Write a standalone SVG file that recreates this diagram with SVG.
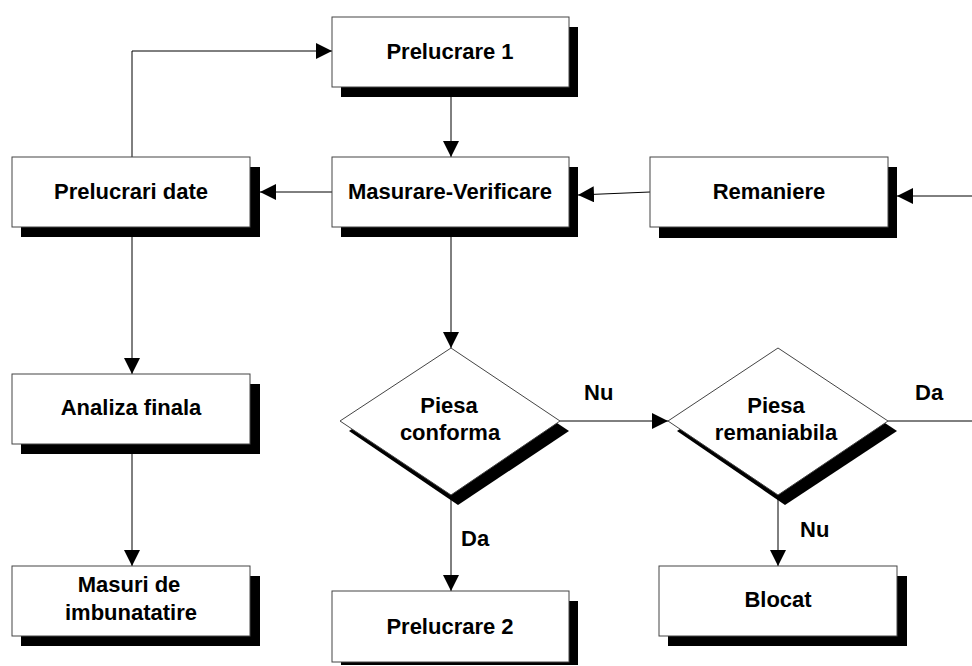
<svg xmlns="http://www.w3.org/2000/svg" width="972" height="666" viewBox="0 0 972 666">
<defs>
<style>
.box{fill:#fff;stroke:#444;stroke-width:1}
.sh{fill:#000}
.t{font-family:"Liberation Sans",Arial,sans-serif;font-weight:bold;font-size:22px;fill:#000;text-anchor:middle}
.lbl{font-family:"Liberation Sans",Arial,sans-serif;font-weight:bold;font-size:22px;fill:#000}
.c{fill:none;stroke:#000;stroke-width:1}
</style>
<marker id="ah" markerUnits="userSpaceOnUse" markerWidth="17" markerHeight="16" refX="16" refY="8" orient="auto">
<path d="M0,0 L16,8 L0,16 z" fill="#000"/>
</marker>
</defs>
<rect width="972" height="666" fill="#fff"/>
<g id="connectors">
<polyline class="c" points="132,157 132,51 332,51" marker-end="url(#ah)"/>
<line class="c" x1="451" y1="97" x2="451" y2="157" marker-end="url(#ah)"/>
<line class="c" x1="332" y1="192" x2="260" y2="192" marker-end="url(#ah)"/>
<line class="c" x1="650" y1="192" x2="578" y2="195" marker-end="url(#ah)"/>
<line class="c" x1="972" y1="196" x2="897" y2="196" marker-end="url(#ah)"/>
<line class="c" x1="451" y1="237" x2="451" y2="348" marker-end="url(#ah)"/>
<line class="c" x1="560" y1="421" x2="668" y2="421" marker-end="url(#ah)"/>
<line class="c" x1="888" y1="421" x2="972" y2="421"/>
<line class="c" x1="451" y1="495" x2="451" y2="591" marker-end="url(#ah)"/>
<line class="c" x1="778" y1="495" x2="778" y2="566" marker-end="url(#ah)"/>
<line class="c" x1="132" y1="237" x2="132" y2="374" marker-end="url(#ah)"/>
<line class="c" x1="132" y1="454" x2="132" y2="566" marker-end="url(#ah)"/>
<text class="lbl" x="584" y="400">Nu</text>
<text class="lbl" x="915" y="400">Da</text>
<text class="lbl" x="461" y="546">Da</text>
<text class="lbl" x="800" y="537">Nu</text>
</g>
<g id="prelucrare1">
<rect class="sh" x="341" y="27" width="237" height="70"/>
<rect class="box" x="332" y="17" width="237" height="70"/>
<text class="t" x="450" y="59">Prelucrare 1</text>
</g>
<g id="prelucrari-date">
<rect class="sh" x="21" y="167" width="239" height="70"/>
<rect class="box" x="12" y="157" width="238" height="70"/>
<text class="t" x="131" y="199">Prelucrari date</text>
</g>
<g id="masurare-verificare">
<rect class="sh" x="341" y="167" width="237" height="70"/>
<rect class="box" x="332" y="157" width="237" height="70"/>
<text class="t" x="450" y="199">Masurare-Verificare</text>
</g>
<g id="remaniere">
<rect class="sh" x="659" y="167" width="238" height="71"/>
<rect class="box" x="650" y="157" width="238" height="70"/>
<text class="t" x="769" y="199">Remaniere</text>
</g>
<g id="piesa-conforma">
<polygon class="sh" points="349,431 460,358 569,431 458,505"/>
<polygon class="box" stroke="#000" points="340,421 451,348 560,421 451,495"/>
<text class="t" x="449" y="413">Piesa</text>
<text class="t" x="450" y="440">conforma</text>
</g>
<g id="piesa-remaniabila">
<polygon class="sh" points="677,431 787,358 897,431 785,505"/>
<polygon class="box" stroke="#000" points="668,421 778,348 888,421 778,495"/>
<text class="t" x="776" y="413">Piesa</text>
<text class="t" x="776" y="440">remaniabila</text>
</g>
<g id="analiza-finala">
<rect class="sh" x="21" y="384" width="239" height="70"/>
<rect class="box" x="12" y="374" width="238" height="70"/>
<text class="t" x="131" y="415">Analiza finala</text>
</g>
<g id="masuri">
<rect class="sh" x="21" y="576" width="239" height="70"/>
<rect class="box" x="12" y="566" width="238" height="70"/>
<text class="t" x="129" y="592">Masuri de</text>
<text class="t" x="131" y="620">imbunatatire</text>
</g>
<g id="prelucrare2">
<rect class="sh" x="341" y="601" width="237" height="64"/>
<rect class="box" x="332" y="591" width="237" height="71"/>
<text class="t" x="450" y="634">Prelucrare 2</text>
</g>
<g id="blocat">
<rect class="sh" x="668" y="576" width="239" height="70"/>
<rect class="box" x="659" y="566" width="238" height="70"/>
<text class="t" x="778" y="607">Blocat</text>
</g>
</svg>
